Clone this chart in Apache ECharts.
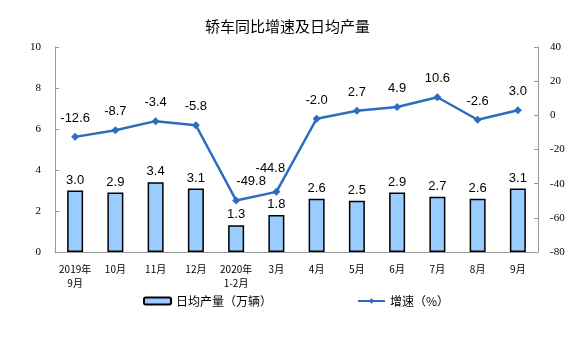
<!DOCTYPE html>
<html><head><meta charset="utf-8">
<script src="https://cdn.jsdelivr.net/npm/echarts@6/dist/echarts.min.js"></script>
<style>html,body{margin:0;padding:0;background:#fff}#c{width:575px;height:338px}</style>
</head><body><div id="c"></div>
<script>
var categories = ['2019年\n9月','10月','11月','12月','2020年\n1-2月','3月','4月','5月','6月','7月','8月','9月'];
var dailyOutput = [3.0, 2.9, 3.4, 3.1, 1.3, 1.8, 2.6, 2.5, 2.9, 2.7, 2.6, 3.1];
var growthRate = [-12.6, -8.7, -3.4, -5.8, -49.8, -44.8, -2.0, 2.7, 4.9, 10.6, -2.6, 3.0];
var leftTicks = [0, 10, 2];
var rightTicks = [-80, 40, 20];

var chart = echarts.init(document.getElementById('c'));
var lineData = growthRate.map(function(v, i){
  var d = {value: v};
  if (i === 4) d.label = {offset: [15, 0], distance: 8};
  if (i === 5) d.label = {offset: [-6, -5]};
  return d;
});
chart.setOption({
  animation: false,
  title: {text: '轿车同比增速及日均产量', left: 'center', top: 14,
    textStyle: {fontFamily: 'Noto Sans CJK SC', fontSize: 15, fontWeight: 'normal', color: '#000'}},
  grid: {left: 55, right: 37, top: 47, bottom: 86},
  legend: [
    {data: ['日均产量（万辆）'], left: 138, top: 290, itemWidth: 27, itemHeight: 7,
     textStyle: {fontFamily: 'Noto Sans CJK SC', fontSize: 12, color: '#000'}},
    {data: ['增速（%）'], left: 352, top: 290, itemWidth: 27, itemHeight: 7,
     textStyle: {fontFamily: 'Noto Sans CJK SC', fontSize: 12, color: '#000'}}
  ],
  xAxis: {type: 'category', data: categories,
    axisLine: {lineStyle: {color: '#999'}},
    axisTick: {inside: true, length: 3, lineStyle: {color: '#999'}},
    axisLabel: {fontFamily: 'Noto Sans CJK SC', fontSize: 10, color: '#000', margin: 10, lineHeight: 14, interval: 0}},
  yAxis: [
    {type: 'value', min: leftTicks[0], max: leftTicks[1], interval: leftTicks[2],
     splitLine: {show: false},
     axisLine: {show: true, lineStyle: {color: '#999'}},
     axisTick: {show: true, inside: true, length: 4, lineStyle: {color: '#999'}},
     axisLabel: {fontFamily: 'Liberation Serif', fontSize: 11, color: '#000', margin: 14}},
    {type: 'value', min: rightTicks[0], max: rightTicks[1], interval: rightTicks[2],
     splitLine: {show: false},
     axisLine: {show: true, lineStyle: {color: '#999'}},
     axisTick: {show: true, inside: true, length: 4, lineStyle: {color: '#999'}},
     axisLabel: {fontFamily: 'Liberation Serif', fontSize: 11, color: '#000', margin: 12}}
  ],
  series: [
    {name: '日均产量（万辆）', type: 'bar', data: dailyOutput, barWidth: 16, yAxisIndex: 0,
     itemStyle: {color: '#99CCFF', borderColor: '#000', borderWidth: 1.5},
     label: {show: true, position: 'top', distance: 4, formatter: function(p){return p.value.toFixed(1);},
       fontFamily: 'Liberation Sans', fontSize: 13, color: '#000'}},
    {name: '增速（%）', type: 'line', data: lineData, yAxisIndex: 1,
     symbol: 'diamond', symbolSize: 8,
     lineStyle: {color: '#2B6DBE', width: 2.5}, itemStyle: {color: '#2B6DBE'},
     label: {show: true, position: 'top', distance: 8, formatter: function(p){return p.value.toFixed(1);},
       fontFamily: 'Liberation Sans', fontSize: 13, color: '#000'}}
  ]
});
</script></body></html>
